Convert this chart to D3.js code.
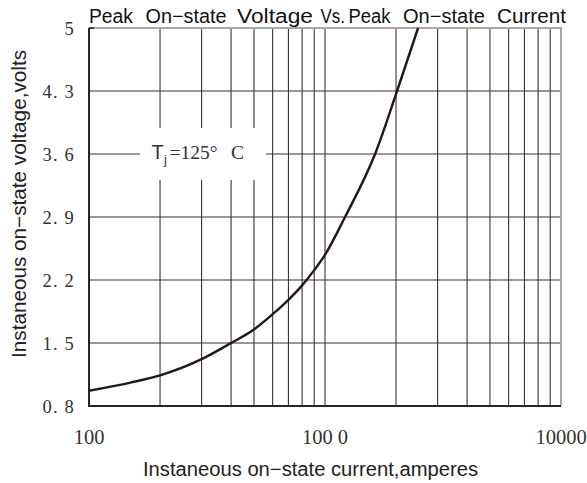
<!DOCTYPE html>
<html><head><meta charset="utf-8">
<script src="https://cdn.jsdelivr.net/npm/d3@7"></script>
<style>body{margin:0;background:#fff}svg{display:block}</style>
</head><body>
<script>
// Data
const currents = [100, 150, 200, 300, 400, 500, 600, 700, 800, 900, 1000, 1216, 1630, 2020, 2480];
const voltages = [0.97, 1.06, 1.14, 1.32, 1.50, 1.65, 1.82, 1.98, 2.14, 2.31, 2.48, 2.90, 3.60, 4.30, 5.00];
const yTicks = [0.8, 1.5, 2.2, 2.9, 3.6, 4.3, 5];
const yTickLabels = ["0. 8", "1. 5", "2. 2", "2. 9", "3. 6", "4. 3", "5"];
const xTicks = [100, 1000, 10000];
const xTickLabels = ["100", "100 0", "10000"];
const xGrid = [200,300,400,500,600,700,800,900,1000,2000,3000,4000,5000,6000,7000,8000,9000];
const titleWords = ["Peak", "On\u2212state", "Voltage", "Vs.", "Peak", "On\u2212state", "Current"];
const titleWordX = [89, 145.5, 237, 320.5, 348.5, 403, 497];
const titleWordW = [44, 81, 76, 24.5, 42, 82, 69];

const W = 587, H = 483;
const m = {left: 89, right: 26, top: 28, bottom: 77};
const svg = d3.select("body").append("svg").attr("width", W).attr("height", H);

const x = d3.scaleLog().domain([100, 10000]).range([m.left, W - m.right]);
const y = d3.scaleLinear().domain([0.8, 5]).range([H - m.bottom, m.top]);

const gridColor = "#3b3333";
svg.append("g").selectAll("line").data(xGrid).join("line")
  .attr("x1", d => x(d)).attr("x2", d => x(d))
  .attr("y1", y(5)).attr("y2", y(0.8))
  .attr("stroke", gridColor).attr("stroke-width", 1.1);
svg.append("g").selectAll("line").data(yTicks.slice(1, -1)).join("line")
  .attr("x1", x(100)).attr("x2", x(10000))
  .attr("y1", d => y(d)).attr("y2", d => y(d))
  .attr("stroke", gridColor).attr("stroke-width", 1.1);

svg.append("path")
  .attr("d", `M${x(100)},${y(5)}H${x(10000)}V${y(0.8)}`)
  .attr("fill", "none").attr("stroke", "#a8a8a8").attr("stroke-width", 2);

// annotation white box
svg.append("rect").attr("x", 140).attr("y", 128).attr("width", 126).attr("height", 52).attr("fill", "#fff");

svg.append("path")
  .attr("d", `M${x(100)},${y(5)}V${y(0.8)}H${x(10000)}`)
  .attr("fill", "none").attr("stroke", "#2a2424").attr("stroke-width", 2);
svg.append("line").attr("x1", x(100)).attr("x2", x(100) + 5).attr("y1", y(5)).attr("y2", y(5))
  .attr("stroke", "#2a2424").attr("stroke-width", 1.5);

const pts = currents.map((c, i) => [c, voltages[i]]);
svg.append("path").datum(pts)
  .attr("d", d3.line().x(d => x(d[0])).y(d => y(d[1])).curve(d3.curveMonotoneX))
  .attr("fill", "none").attr("stroke", "#231815").attr("stroke-width", 2.4);

// y tick labels
svg.append("g").selectAll("text").data(yTicks).join("text")
  .attr("x", 75).attr("y", d => y(d) + 7)
  .attr("text-anchor", "end")
  .attr("font-family", "'Liberation Serif', serif").attr("font-size", 18.5)
  .attr("letter-spacing", 1.2)
  .attr("fill", "#333").text((d, i) => yTickLabels[i]);

// x tick labels
svg.append("g").selectAll("text").data(xTicks).join("text")
  .attr("x", d => x(d)).attr("y", 444)
  .attr("text-anchor", "middle")
  .attr("font-family", "'Liberation Serif', serif").attr("font-size", 20.5)
  .attr("fill", "#333").text((d, i) => xTickLabels[i]);

// title
svg.append("g").selectAll("text").data(titleWords).join("text")
  .attr("x", (d, i) => titleWordX[i]).attr("y", 22.5)
  .attr("font-family", "'Liberation Sans', Arial, sans-serif").attr("font-size", 20)
  .attr("textLength", (d, i) => titleWordW[i]).attr("lengthAdjust", "spacingAndGlyphs")
  .attr("fill", "#111").text(d => d);

// axis titles
svg.append("text").attr("x", 310.5).attr("y", 476)
  .attr("text-anchor", "middle")
  .attr("font-family", "'Liberation Sans', Arial, sans-serif").attr("font-size", 20)
  .attr("textLength", 335).attr("lengthAdjust", "spacingAndGlyphs")
  .attr("fill", "#222").text("Instaneous on\u2212state current,amperes");
svg.append("text").attr("transform", "translate(26,204) rotate(-90)")
  .attr("text-anchor", "middle")
  .attr("font-family", "'Liberation Sans', Arial, sans-serif").attr("font-size", 20)
  .attr("textLength", 308).attr("lengthAdjust", "spacingAndGlyphs")
  .attr("fill", "#222").text("Instaneous on\u2212state voltage,volts");

// annotation
const annG = svg.append("g").attr("fill", "#333");
annG.append("text").attr("x", 151.5).attr("y", 158.5)
  .attr("font-family", "'Liberation Sans', Arial, sans-serif").attr("font-size", 20).text("T");
annG.append("text").attr("x", 164).attr("y", 164)
  .attr("font-family", "'Liberation Sans', Arial, sans-serif").attr("font-size", 13).text("j");
annG.append("text").attr("x", 169.5).attr("y", 158.5)
  .attr("font-family", "'Liberation Serif', serif").attr("font-size", 19.5).text("=125\u00b0");
annG.append("text").attr("x", 231).attr("y", 158.5)
  .attr("font-family", "'Liberation Serif', serif").attr("font-size", 19.5).text("C");
</script>
</body></html>
